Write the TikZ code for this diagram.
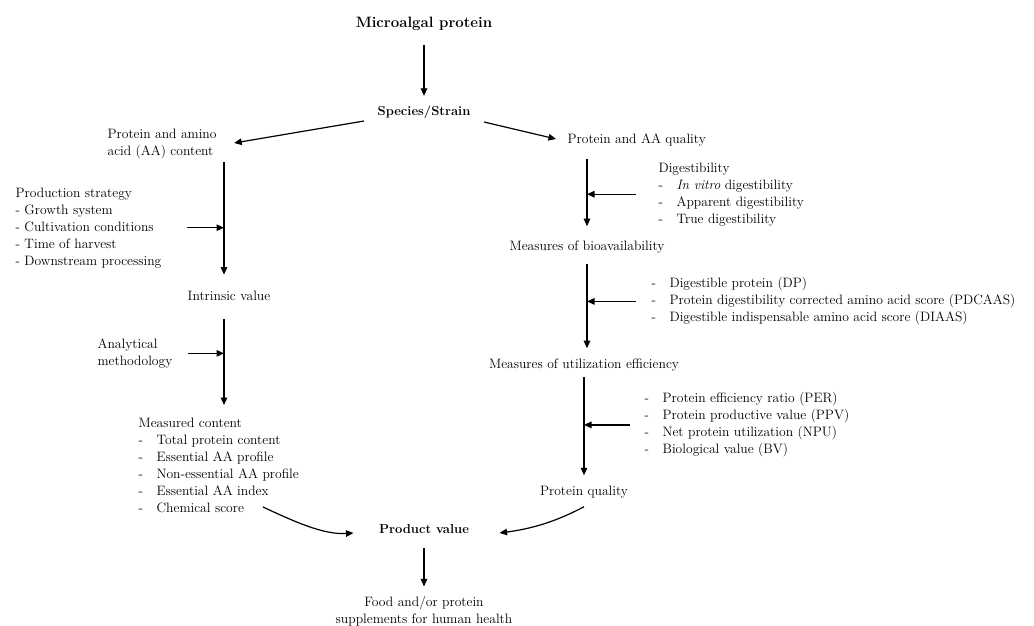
\documentclass[tikz,border=0pt]{standalone}
\usepackage{tikz}
\usetikzlibrary{arrows.meta, positioning, calc}
\newcommand{\itm}[1]{\makebox[18pt][l]{-}#1}

\begin{document}
\begin{tikzpicture}[x=1pt, y=-1pt, >={Triangle[length=7.5pt, width=6.5pt]}, line width=1.2pt,
  txt/.style={font=\fontsize{13.6}{17}\selectfont, inner sep=0pt},
  lst/.style={txt, align=left, anchor=north west},
  hd/.style={txt, font=\fontsize{13}{17}\selectfont\bfseries}]
\useasboundingbox (0,0) rectangle (1034,626);

% top and bottom of the flow
\node[hd, font=\fontsize{15}{18}\selectfont\bfseries] (top) at (424,24) {Microalgal protein};
\node[hd] (spec) at (424,112) {Species/Strain};
\node[hd] (prodv) at (424,529) {Product value};
\node[txt, align=center] (food) at (424,611) {Food and/or protein\\supplements for human health};

% left branch
\node[lst] (pac) at (107,128) {Protein and amino\\acid (AA) content};
\node[lst] (prod) at (15,187) {Production strategy\\- Growth system\\- Cultivation conditions\\- Time of harvest\\- Downstream processing};
\node[txt] (intr) at (229,296) {Intrinsic value};
\node[lst] (anal) at (97,338) {Analytical\\methodology};
\node[lst] (meas) at (138,417) {Measured content\\\itm{Total protein content}\\\itm{Essential AA profile}\\\itm{Non-essential AA profile}\\\itm{Essential AA index}\\\itm{Chemical score}};

% right branch
\node[txt, anchor=west] (paq) at (567,140) {Protein and AA quality};
\node[lst] (dig) at (658,162) {Digestibility\\\itm{\textit{In vitro} digestibility}\\\itm{Apparent digestibility}\\\itm{True digestibility}};
\node[txt] (bio) at (587,247) {Measures of bioavailability};
\node[lst] (dpl) at (651,277) {\itm{Digestible protein (DP)}\\\itm{Protein digestibility corrected amino acid score (PDCAAS)}\\\itm{Digestible indispensable amino acid score (DIAAS)}};
\node[txt] (util) at (584,365) {Measures of utilization efficiency};
\node[lst] (perl) at (644,392) {\itm{Protein efficiency ratio (PER)}\\\itm{Protein productive value (PPV)}\\\itm{Net protein utilization (NPU)}\\\itm{Biological value (BV)}};
\node[txt] (pq) at (584,492) {Protein quality};

\coordinate (lx) at (224,0);
\coordinate (rx) at (587,0);
\coordinate (mend) at (263,507);

\draw[->, shorten <=14pt, shorten >=9pt] (top) -- (spec);
\draw[->] ($(spec.west)+(-13,9)$) -- ($(pac.north east)+(17,15)$);
\draw[->] ($(spec.east)+(13,10)$) -- ($(paq.west)+(-11,-1)$);

\draw[->, shorten <=3pt, shorten >=16pt] (pac.south -| lx) -- (intr.north -| lx);
\draw[->] ($(prod.east)+(25,0)$) -- (prod.east -| lx);
\draw[->, shorten <=18pt, shorten >=12pt] (intr.south -| lx) -- (meas.north -| lx);
\draw[->] ($(anal.east)+(15,0)$) -- (anal.east -| lx);

\draw[->, shorten <=12pt, shorten >=14pt] (paq.south -| rx) -- (bio.north -| rx);
\draw[->] ($(dig.west)+(-22,0)$) -- (dig.west -| rx);
\draw[->, shorten <=10pt, shorten >=10pt] (bio.south -| rx) -- (util.north -| rx);
\draw[->] ($(dpl.west)+(-15,0)$) -- (dpl.west -| rx);
\draw[->, shorten <=5pt, shorten >=10pt] (util.south) -- (pq.north);
\draw[->] ($(perl.west)+(-14,0)$) -- (perl.west -| util.south);

\draw[->] (mend) .. controls +(30,14) and +(-30,2) .. ($(prodv.west)+(-25,4)$);
\draw[->] ($(pq.south)+(0,8)$) .. controls +(-30,16) and +(30,-4) .. ($(prodv.east)+(30,4)$);
\draw[->, shorten <=14pt, shorten >=9pt] (prodv) -- (food);
\end{tikzpicture}
\end{document}
